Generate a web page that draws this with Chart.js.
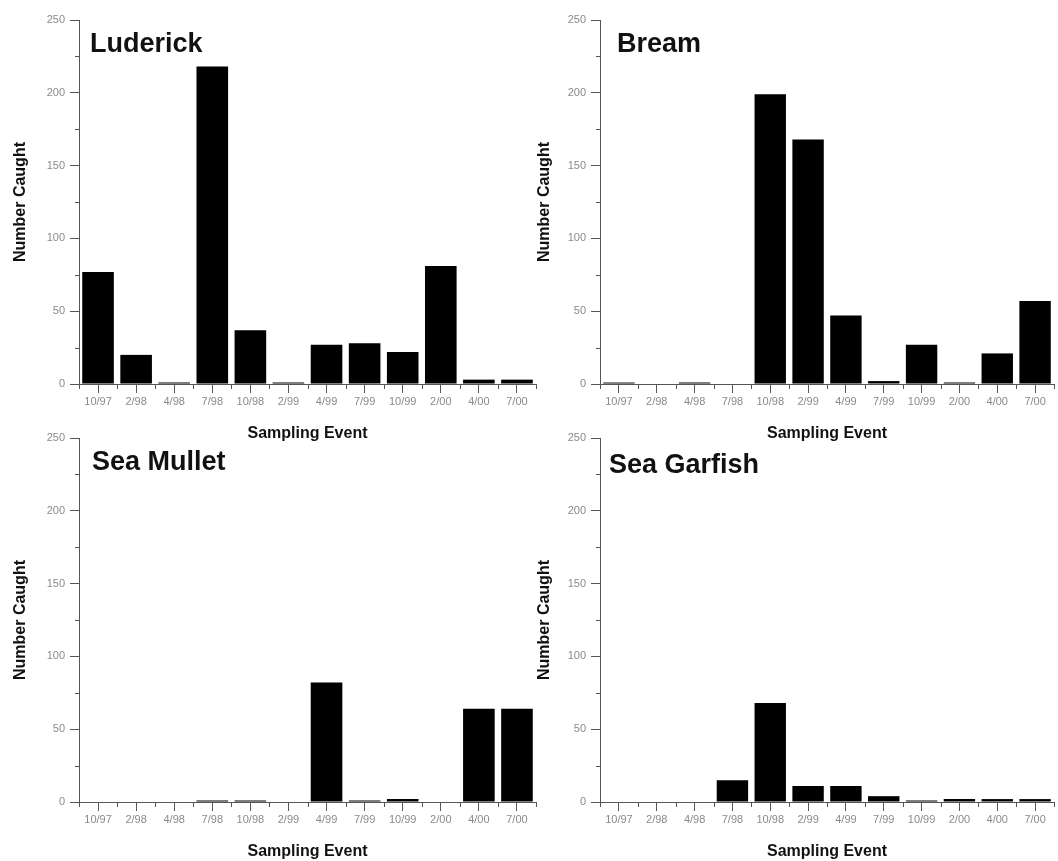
<!DOCTYPE html>
<html>
<head>
<meta charset="utf-8">
<script src="https://cdn.jsdelivr.net/npm/chart.js@4/dist/chart.umd.min.js"></script>
<style>
  html, body { margin: 0; padding: 0; background: #fff; overflow: hidden; }
  body { width: 1058px; height: 861px; position: relative; }
  .panel { position: absolute; }
</style>
</head>
<body>
<div class="panel" id="p1" style="left:0px;top:0px;width:540px;height:443px"><canvas id="c1"></canvas></div>
<div class="panel" id="p2" style="left:521px;top:0px;width:537px;height:443px"><canvas id="c2"></canvas></div>
<div class="panel" id="p3" style="left:0px;top:418px;width:540px;height:443px"><canvas id="c3"></canvas></div>
<div class="panel" id="p4" style="left:521px;top:418px;width:537px;height:443px"><canvas id="c4"></canvas></div>
<script>
// Sampling events (month/year) shared by all four species panels
const events = ['10/97', '2/98', '4/98', '7/98', '10/98', '2/99', '4/99', '7/99', '10/99', '2/00', '4/00', '7/00'];

// Number caught per sampling event
const luderick   = [77, 20, 1, 218, 37, 1, 27, 28, 22, 81, 3, 3];
const bream      = [1, 0, 1, 0, 199, 168, 47, 2, 27, 1, 21, 57];
const seaMullet  = [0, 0, 0, 1, 1, 0, 82, 1, 2, 0, 64, 64];
const seaGarfish = [0, 0, 0, 15, 68, 11, 11, 4, 1, 2, 2, 2];

// Y axis ticks
const yMajorTicks = [0, 50, 100, 150, 200, 250];
const yMinorTicks = [25, 75, 125, 175, 225];

const FONT = "'Liberation Sans', Arial, Helvetica, sans-serif";
const AXIS_COLOR = '#555';
const TICK_TEXT = '#8a8a8a';

// Species name in the upper-left corner, plus the small ticks
// between category centres and between labelled y values.
const panelDecor = {
  id: 'panelDecor',
  afterDraw(chart, args, opts) {
    const ctx = chart.ctx;
    const area = chart.chartArea;
    const xs = chart.scales.x;
    const ys = chart.scales.y;
    ctx.save();
    ctx.strokeStyle = AXIS_COLOR;
    ctx.lineWidth = 1;
    ctx.beginPath();
    for (let i = 0; i <= events.length; i++) {
      const px = Math.round(xs.getPixelForValue(i - 0.5)) + 0.5;
      ctx.moveTo(px, area.bottom);
      ctx.lineTo(px, area.bottom + 5);
    }
    yMinorTicks.forEach(v => {
      const py = Math.round(ys.getPixelForValue(v)) + 0.5;
      ctx.moveTo(area.left, py);
      ctx.lineTo(area.left - 4, py);
    });
    ctx.stroke();

    ctx.fillStyle = '#111';
    ctx.font = 'bold 27px ' + FONT;
    ctx.textBaseline = 'alphabetic';
    ctx.textAlign = 'left';
    ctx.fillText(opts.name, area.left + opts.dx, area.top + opts.dy);
    ctx.restore();
  }
};

function makePanel(canvasId, name, values, dx, dy, yTitlePad) {
  new Chart(document.getElementById(canvasId), {
    type: 'bar',
    data: {
      labels: events,
      datasets: [{
        label: name,
        data: values,
        backgroundColor: '#000',
        borderWidth: 0,
        barPercentage: 0.83,
        categoryPercentage: 1.0
      }]
    },
    plugins: [panelDecor],
    options: {
      responsive: true,
      maintainAspectRatio: false,
      animation: false,
      layout: { padding: { top: 20, right: 4, bottom: 0, left: 0 } },
      plugins: {
        legend: { display: false },
        tooltip: { enabled: false },
        title: { display: false },
        panelDecor: { name: name, dx: dx, dy: dy }
      },
      scales: {
        x: {
          type: 'category',
          offset: true,
          grid: {
            display: true,
            offset: false,
            drawOnChartArea: false,
            drawTicks: true,
            tickLength: 9,
            color: AXIS_COLOR
          },
          border: { display: true, color: AXIS_COLOR, width: 1 },
          ticks: {
            color: TICK_TEXT,
            font: { family: FONT, size: 11 },
            padding: 2,
            maxRotation: 0,
            autoSkip: false
          },
          title: {
            display: true,
            text: 'Sampling Event',
            color: '#111',
            font: { family: FONT, size: 16, weight: 'bold' },
            padding: { top: 0, bottom: 0 }
          },
          afterFit: s => { s.height = 59; }
        },
        y: {
          min: 0,
          max: 250,
          afterBuildTicks: s => { s.ticks = yMajorTicks.map(v => ({ value: v })); },
          grid: {
            display: true,
            drawOnChartArea: false,
            drawTicks: true,
            tickLength: 9,
            color: AXIS_COLOR
          },
          border: { display: true, color: AXIS_COLOR, width: 1 },
          ticks: {
            color: TICK_TEXT,
            font: { family: FONT, size: 11 },
            padding: 5
          },
          title: {
            display: true,
            text: 'Number Caught',
            color: '#111',
            font: { family: FONT, size: 16, weight: 'bold' },
            padding: { top: yTitlePad, bottom: 0 }
          },
          afterFit: s => { s.width = 79; }
        }
      }
    }
  });
}

makePanel('c1', 'Luderick', luderick, 11, 32, 11);
makePanel('c2', 'Bream', bream, 17, 32, 14);
makePanel('c3', 'Sea Mullet', seaMullet, 13, 32, 11);
makePanel('c4', 'Sea Garfish', seaGarfish, 9, 35, 14);
</script>
</body>
</html>
